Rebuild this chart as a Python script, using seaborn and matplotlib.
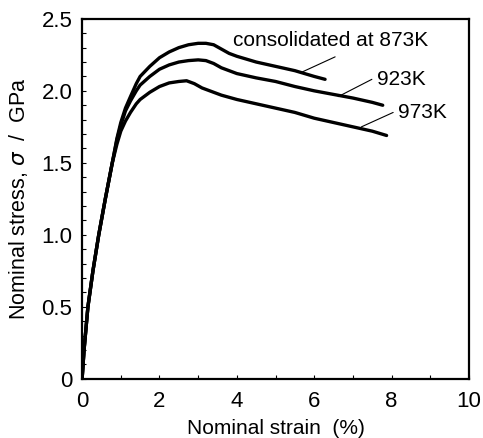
import matplotlib
matplotlib.use("Agg")
import matplotlib.pyplot as plt
import seaborn as sns
import pandas as pd
from matplotlib.ticker import MultipleLocator, FixedLocator

sns.set_theme(style="white")
plt.rcParams['font.family'] = ['Liberation Sans', 'DejaVu Sans']

strain_873 = [0, 0.05, 0.15, 0.28, 0.43, 0.6, 0.78, 0.9, 1.0, 1.12, 1.25, 1.4, 1.5, 1.75, 2.0, 2.25, 2.5, 2.75, 3.0, 3.2, 3.4, 3.6, 3.8, 4.0, 4.5, 5.0, 5.5, 6.0, 6.28]
stress_873 = [0, 0.2, 0.5, 0.75, 1.0, 1.25, 1.5, 1.67, 1.78, 1.88, 1.96, 2.05, 2.10, 2.17, 2.23, 2.27, 2.30, 2.32, 2.33, 2.33, 2.32, 2.29, 2.26, 2.24, 2.20, 2.17, 2.14, 2.10, 2.08]

strain_923 = [0, 0.05, 0.15, 0.28, 0.43, 0.6, 0.78, 0.9, 1.0, 1.12, 1.25, 1.4, 1.5, 1.75, 2.0, 2.25, 2.5, 2.75, 3.0, 3.2, 3.4, 3.6, 3.8, 4.0, 4.5, 5.0, 5.5, 6.0, 6.5, 7.0, 7.5, 7.77]
stress_923 = [0, 0.2, 0.5, 0.75, 1.0, 1.25, 1.5, 1.66, 1.76, 1.86, 1.93, 2.00, 2.04, 2.10, 2.15, 2.18, 2.20, 2.21, 2.215, 2.21, 2.19, 2.16, 2.14, 2.12, 2.09, 2.065, 2.03, 2.0, 1.975, 1.95, 1.92, 1.90]

strain_973 = [0, 0.05, 0.15, 0.28, 0.43, 0.6, 0.78, 0.9, 1.0, 1.12, 1.25, 1.4, 1.5, 1.75, 2.0, 2.25, 2.5, 2.7, 2.9, 3.1, 3.3, 3.6, 4.0, 4.5, 5.0, 5.5, 6.0, 6.5, 7.0, 7.5, 7.87]
stress_973 = [0, 0.2, 0.5, 0.75, 1.0, 1.25, 1.5, 1.63, 1.72, 1.79, 1.85, 1.91, 1.94, 1.99, 2.03, 2.055, 2.065, 2.07, 2.05, 2.02, 2.0, 1.97, 1.94, 1.91, 1.88, 1.85, 1.81, 1.78, 1.75, 1.72, 1.69]

labels = ["consolidated at 873K", "923K", "973K"]

frames = []
for name, xs, ys in [("873K", strain_873, stress_873), ("923K", strain_923, stress_923), ("973K", strain_973, stress_973)]:
    frames.append(pd.DataFrame({"strain": xs, "stress": ys, "temp": name}))
df = pd.concat(frames, ignore_index=True)

fig = plt.figure(figsize=(4.83, 4.38), dpi=100)
ax = fig.add_axes([0.170, 0.135, 0.801, 0.822])

sns.lineplot(data=df, x="strain", y="stress", units="temp", estimator=None,
             color="black", linewidth=2.4, ax=ax, sort=False)
for ln in ax.lines:
    ln.set_solid_joinstyle("round")
    ln.set_solid_capstyle("round")

ax.set_xlim(0, 10)
ax.set_ylim(0, 2.5)
ax.xaxis.set_major_locator(FixedLocator([0, 2, 4, 6, 8, 10]))
ax.xaxis.set_minor_locator(MultipleLocator(1))
ax.yaxis.set_major_locator(FixedLocator([0, 0.5, 1.0, 1.5, 2.0, 2.5]))
ax.yaxis.set_minor_locator(MultipleLocator(0.1))
ax.set_xticklabels(["0", "2", "4", "6", "8", "10"])
ax.set_yticklabels(["0", "0.5", "1.0", "1.5", "2.0", "2.5"])
ax.tick_params(which="both", direction="in", length=3, width=0.8, color="black",
               labelsize=16, labelcolor="black")
ax.tick_params(which="both", top=False, right=False, bottom=True, left=True)
ax.tick_params(axis="x", which="major", pad=9)
ax.tick_params(axis="y", which="major", pad=7)

for sp in ax.spines.values():
    sp.set_color("black")
    sp.set_linewidth(1.6)

ax.set_xlabel("Nominal strain  (%)", fontsize=15, color="black", labelpad=5)
ax.set_ylabel("Nominal stress, $\\sigma$  /  GPa", fontsize=15.5, color="black", labelpad=8)

ax.text(3.9, 2.35, labels[0], fontsize=15, va="center", ha="left", color="black")
ax.plot([6.54, 5.68], [2.236, 2.13], color="black", linewidth=0.8)
ax.text(7.62, 2.08, labels[1], fontsize=15, va="center", ha="left", color="black")
ax.plot([7.49, 6.62], [2.08, 1.96], color="black", linewidth=0.8)
ax.text(8.17, 1.85, labels[2], fontsize=15, va="center", ha="left", color="black")
ax.plot([8.04, 7.22], [1.85, 1.75], color="black", linewidth=0.8)

fig.savefig("out.png", dpi=100)
